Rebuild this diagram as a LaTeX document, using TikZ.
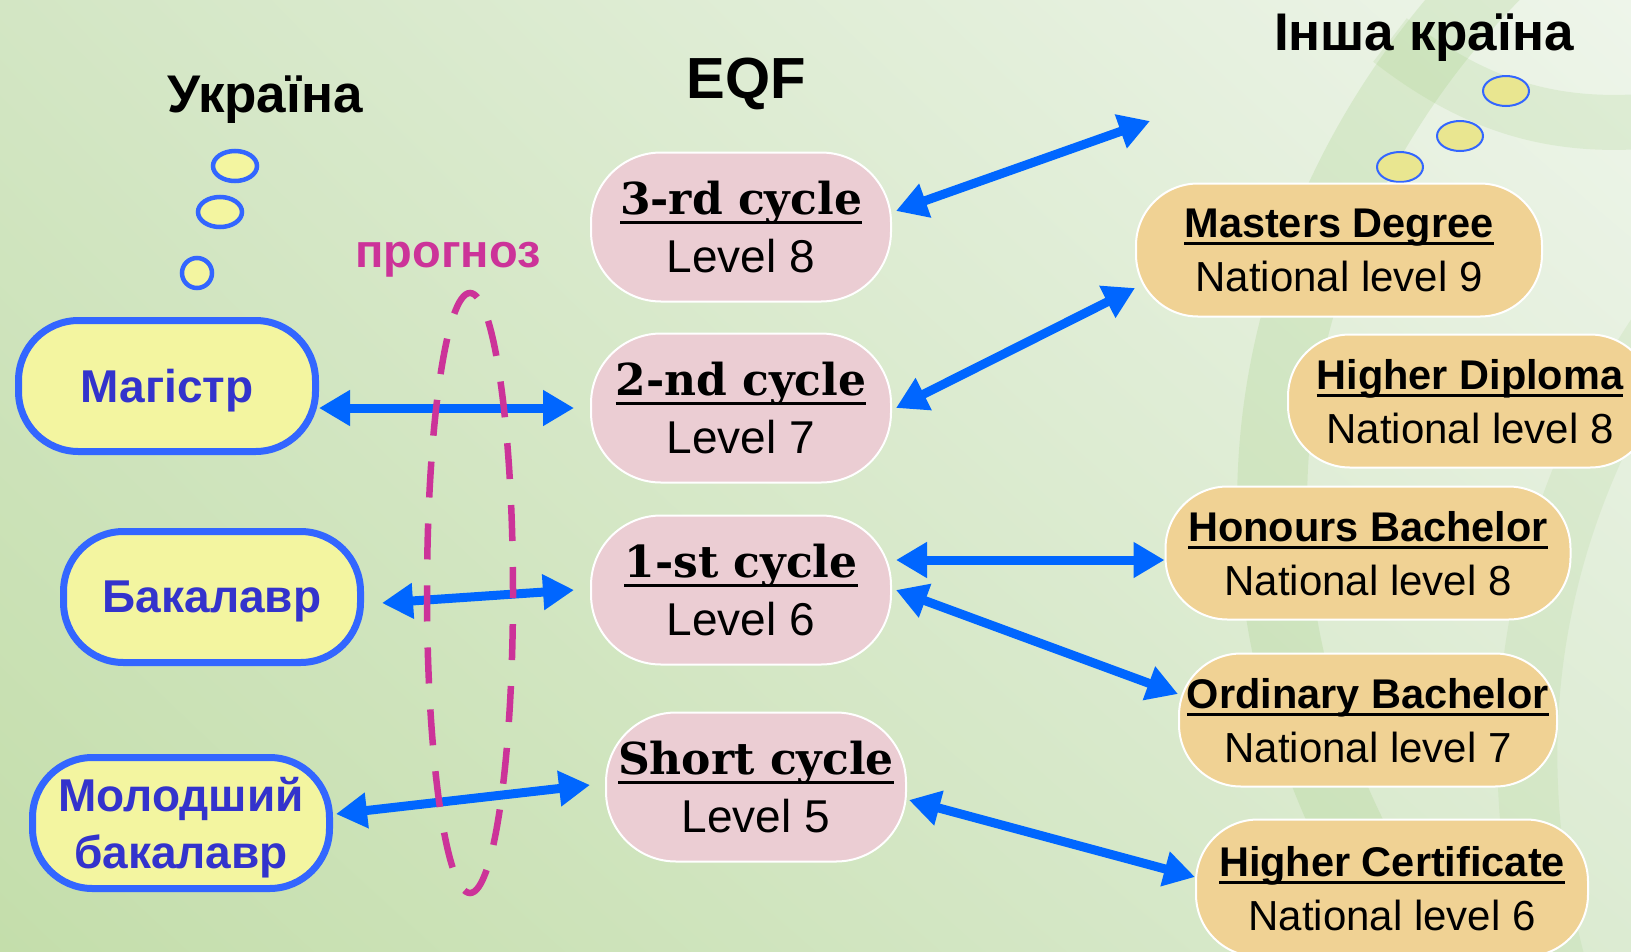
\documentclass[tikz,border=0pt]{standalone}
\usepackage{fontspec}
\setmainfont{Liberation Sans}
\newfontfamily\cycfont{DejaVu Serif}
\usetikzlibrary{arrows.meta,shadings}
\definecolor{arrowblue}{HTML}{0066FF}
\definecolor{uablue}{HTML}{3366FF}
\definecolor{uatext}{HTML}{3333CC}
\definecolor{uayellow}{HTML}{F3F5A0}
\definecolor{eqfpink}{HTML}{EBCDD3}
\definecolor{othtan}{HTML}{F0D294}
\definecolor{progmag}{HTML}{CC3399}
\definecolor{bubfill}{HTML}{E9E690}
\definecolor{bgA}{HTML}{D3E6C4}
\definecolor{bgB}{HTML}{EEF5EA}
\definecolor{bgC}{HTML}{C4DEAB}
\definecolor{bgD}{HTML}{DCEBD2}
\definecolor{swoosh}{HTML}{9CCB7A}
\newcommand\ulx[2][0.2em]{\setbox0=\hbox{#2}\leavevmode\rlap{\rule[-#1]{\wd0}{0.07em}}\box0}
\tikzset{
  uanode/.style={draw=uablue, line width=7pt, fill=uayellow, rounded corners=60pt,
    minimum width=297pt, minimum height=131pt, text=uatext, align=center, inner sep=0pt,
    text depth=0pt, font=\fontsize{46}{57}\selectfont\bfseries},
  eqfnode/.style={draw=white, line width=2pt, fill=eqfpink, rounded corners=70pt,
    minimum width=300pt, minimum height=149pt, align=center, inner sep=0pt,
    text depth=0pt, font=\fontsize{46}{58}\selectfont},
  othnode/.style={draw=white, line width=2pt, fill=othtan, rounded corners=62pt,
    minimum height=133pt, align=center, inner sep=0pt,
    text depth=0pt, font=\fontsize{42}{54}\selectfont},
  link/.style={draw=arrowblue, line width=9pt,
    {Triangle[length=31pt,width=34pt]}-{Triangle[length=31pt,width=34pt]}},
  lbub/.style={draw=uablue, line width=4.5pt, fill=uayellow},
  rbub/.style={draw=uablue, line width=2pt, fill=bubfill},
  title/.style={anchor=base, font=\fontsize{53}{60}\selectfont\bfseries},
}
\newcommand\cyctxt[1]{{\cycfont\bfseries\fontsize{44}{58}\selectfont\ulx[0.215em]{#1}}}
\newcommand\degtxt[1]{{\fontsize{41.5}{54}\selectfont\bfseries\ulx[0.18em]{#1}}}
\begin{document}
\begin{tikzpicture}[x=1pt,y=-1pt]
\useasboundingbox (0,0) rectangle (1631,951);
\clip (0,0) rectangle (1631,951);
% background
\shade[upper left=bgA, upper right=bgB, lower left=bgC, lower right=bgD] (0,0) rectangle (1631,951);
\draw[swoosh, opacity=0.22, line width=70pt] (1500,-30) .. controls (1320,150) and (1220,420) .. (1300,700) .. controls (1340,840) and (1400,920) .. (1440,980);
\draw[swoosh, opacity=0.18, line width=55pt] (1390,40) .. controls (1480,110) and (1560,130) .. (1660,120);
\draw[swoosh, opacity=0.15, line width=60pt] (1660,330) .. controls (1560,480) and (1480,700) .. (1560,980);
% titles
\node[title] (tua) at (265,112) {Україна};
\node[title, font=\fontsize{58}{64}\selectfont\bfseries] (teqf) at (746,98) {EQF};
\node[title] (toth) at (1424,50) {Інша країна};
\node[anchor=base, text=progmag, font=\fontsize{47}{56}\selectfont\bfseries] (prog) at (448,267) {прогноз};
% thought bubbles
\draw[lbub] (235,166) ellipse [x radius=22pt, y radius=15pt];
\draw[lbub] (220,212) ellipse [x radius=22pt, y radius=15pt];
\draw[lbub] (197,273) ellipse [x radius=15pt, y radius=15pt];
\draw[rbub] (1506,91) ellipse [x radius=23pt, y radius=15pt];
\draw[rbub] (1460,136) ellipse [x radius=23pt, y radius=15pt];
\draw[rbub] (1400,167) ellipse [x radius=23pt, y radius=15pt];
% Ukraine nodes
\node[uanode] (m) at (167,386) {Магістр};
\node[uanode] (b) at (212,597) {Бакалавр};
\node[uanode] (mb) at (181,823) {Молодший\\бакалавр};
% EQF nodes
\node[eqfnode] (c3) at (741,227) {\cyctxt{3-rd cycle}\\Level 8};
\node[eqfnode] (c2) at (741,408) {\cyctxt{2-nd cycle}\\Level 7};
\node[eqfnode] (c1) at (741,590) {\cyctxt{1-st cycle}\\Level 6};
\node[eqfnode] (sc) at (756,787) {\cyctxt{Short cycle}\\Level 5};
% other country nodes
\node[othnode, minimum width=406pt] (md) at (1339,250) {\degtxt{Masters Degree}\\National level 9};
\node[othnode, minimum width=364pt] (hd) at (1470,401) {\degtxt{Higher Diploma}\\National level 8};
\node[othnode, minimum width=405pt] (hb) at (1368,553) {\degtxt{Honours Bachelor}\\National level 8};
\node[othnode, minimum width=378pt] (ob) at (1368,720) {\degtxt{Ordinary Bachelor}\\National level 7};
\node[othnode, minimum width=392pt, minimum height=137pt] (hc) at (1392,888) {\degtxt{Higher Certificate}\\National level 6};
% free end of top arrow
\coordinate (free) at (1150,121);
% connectors
\draw[link] ([xshift=4pt,yshift=16pt]c3.east) -- (free);
\draw[link] ([xshift=4pt]c2.east) -- ([yshift=-38pt]md.west);
\draw[link] ([yshift=-22pt]m.east) -- ([xshift=-16pt]c2.west);
\draw[link] ([xshift=18pt,yshift=-6pt]b.east) -- ([xshift=-16pt]c1.west);
\draw[link] ([xshift=3pt,yshift=9pt]mb.east) -- ([xshift=-15pt,yshift=2pt]sc.west);
\draw[link] ([xshift=4pt,yshift=30pt]c1.east) -- ([yshift=-7pt]hb.west);
\draw[link] ([xshift=4pt]c1.east) -- ([yshift=26pt]ob.west);
\draw[link] ([xshift=2pt,yshift=-13pt]sc.east) -- ([yshift=11pt]hc.west);
% forecast dashed oval
\draw[progmag, line width=6.5pt, dash pattern=on 36pt off 26pt, dash phase=10pt] (470,593) ellipse [x radius=43pt, y radius=300pt];
\end{tikzpicture}
\end{document}
